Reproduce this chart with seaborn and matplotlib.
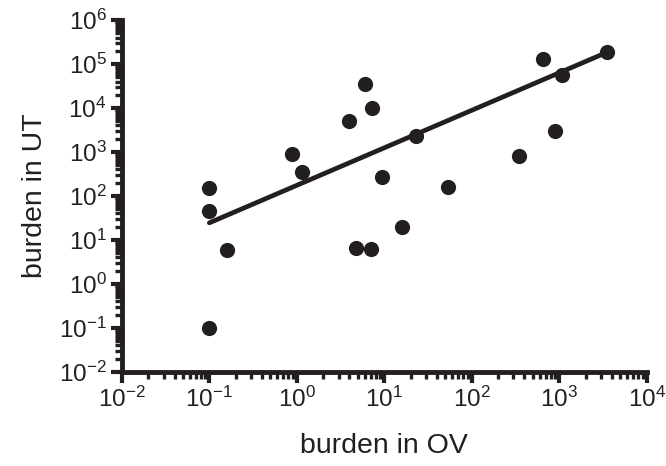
import matplotlib
matplotlib.use("Agg")
import matplotlib.pyplot as plt
import numpy as np
import pandas as pd
import seaborn as sns
from matplotlib.ticker import LogLocator, LogFormatterMathtext, NullFormatter

# burden values
burden_ov = [0.1, 0.1, 0.1, 0.16, 0.88, 1.14, 4.0, 6.0, 7.2, 4.7, 7.0, 9.4,
             16, 23, 53, 344, 660, 890, 1070, 3550]
burden_ut = [150, 45, 0.1, 6, 900, 350, 5000, 35000, 10000, 6.6, 6.3, 270,
             20, 2300, 160, 810, 130000, 3000, 56000, 187000]

# end points of the fitted line as drawn in the reference
fit_ov = [0.1, 3550]
fit_ut = [24.5, 186000]

INK = "#231f20"
FONT = ["Liberation Sans", "DejaVu Sans"]

df = pd.DataFrame({"OV": burden_ov, "UT": burden_ut})

sns.set_style("ticks")
plt.rcParams["font.family"] = FONT
plt.rcParams["mathtext.fontset"] = "custom"
plt.rcParams["mathtext.rm"] = FONT[0]
plt.rcParams["axes.unicode_minus"] = False

fig = plt.figure(figsize=(6.66, 4.66), dpi=100)
ax = fig.add_axes([0.183, 0.202, 0.788, 0.755])

sns.scatterplot(data=df, x="OV", y="UT", ax=ax, s=120, color=INK,
                edgecolor=INK, linewidth=0, zorder=3)
sns.lineplot(x=fit_ov, y=fit_ut, ax=ax, color=INK, lw=3.4, zorder=2)

ax.set_xscale("log")
ax.set_yscale("log")
ax.set_xlim(1e-2, 1e4)
ax.set_ylim(1e-2, 1e6)

for axis in (ax.xaxis, ax.yaxis):
    axis.set_major_locator(LogLocator(base=10, numticks=20))
    axis.set_major_formatter(LogFormatterMathtext())
    axis.set_minor_locator(LogLocator(base=10, subs=np.arange(2, 10), numticks=20))
    axis.set_minor_formatter(NullFormatter())

for side in ("top", "right"):
    ax.spines[side].set_visible(False)
for side in ("left", "bottom"):
    ax.spines[side].set_linewidth(3.5)
    ax.spines[side].set_color(INK)

ax.tick_params(which="major", length=8, width=3, color=INK, labelsize=17.5,
               labelcolor=INK, pad=3)
ax.tick_params(which="minor", length=5, width=2.4, color=INK)

ax.set_xlabel("burden in OV", fontsize=20.5, color=INK, labelpad=15)
ax.set_ylabel("burden in UT", fontsize=20.5, color=INK, labelpad=8)

fig.savefig("out.png", dpi=100)
